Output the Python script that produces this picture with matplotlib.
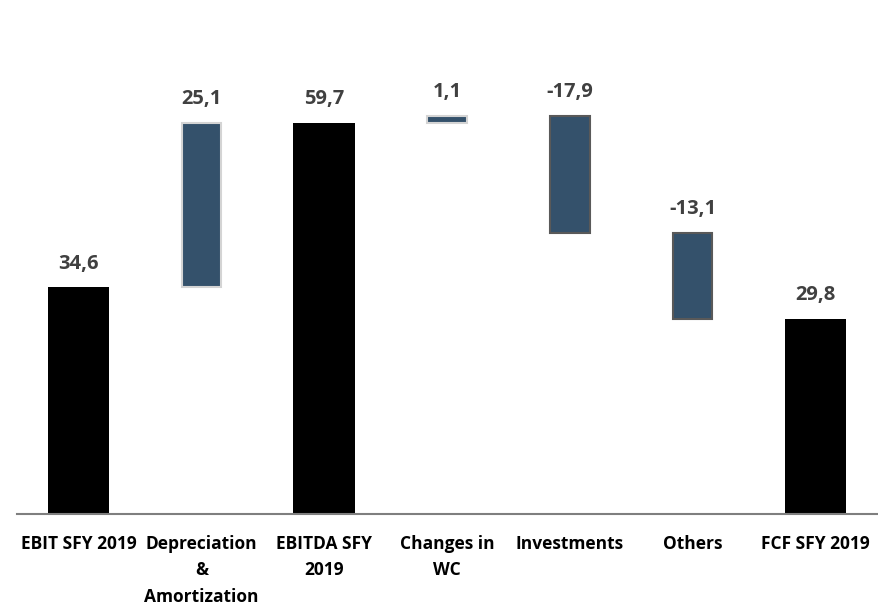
import matplotlib
matplotlib.use('Agg')
import matplotlib.pyplot as plt

categories = ['EBIT SFY 2019', 'Depreciation\n&\nAmortization', 'EBITDA SFY\n2019',
              'Changes in\nWC', 'Investments', 'Others', 'FCF SFY 2019']
values = [34.6, 25.1, 59.7, 1.1, -17.9, -13.1, 29.8]
is_total = [True, False, True, False, False, False, True]
labels = ['34,6', '25,1', '59,7', '1,1', '-17,9', '-13,1', '29,8']

plt.rcParams['font.family'] = ['Open Sans', 'DejaVu Sans']
plt.rcParams['font.weight'] = 'bold'

fig = plt.figure(figsize=(8.79, 6.06), dpi=100)
ax = fig.add_axes([17 / 879, 92 / 606, 860 / 879, 474 / 606])

running = 0.0
for i, v in enumerate(values):
    if is_total[i]:
        bottom, height = 0, v
        running = v
        ax.bar(i, height, bottom=bottom, width=0.5, color='black', edgecolor='none')
    else:
        bottom = running if v > 0 else running + v
        height = abs(v)
        ec = '#d4d4d4' if v > 0 else '#595959'
        ax.bar(i, height, bottom=bottom, width=0.32, color='#34516b', edgecolor=ec, linewidth=1.5)
        running += v
    top = bottom + height
    ax.annotate(labels[i], (i, top), xytext=(0, 10), textcoords='offset points',
                ha='center', va='bottom', fontsize=14.5, fontweight='bold', color='#404040')

ax.set_xlim(-0.5, 6.5)
ax.set_ylim(0, 72.4)
ax.set_xticks(range(len(categories)))
ax.set_xticklabels(categories, fontsize=12.5, fontweight='bold', color='black', linespacing=1.6)
ax.tick_params(axis='x', length=0, pad=15)
ax.set_yticks([])
for s in ['top', 'right', 'left']:
    ax.spines[s].set_visible(False)
ax.spines['bottom'].set_color('#7f7f7f')
ax.spines['bottom'].set_linewidth(1.5)

plt.savefig('out.png', dpi=100)
